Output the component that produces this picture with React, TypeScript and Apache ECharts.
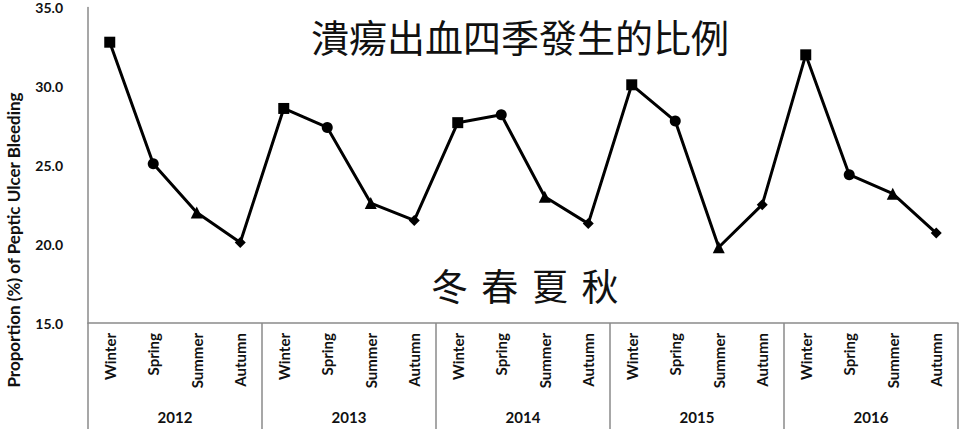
import { useEffect, useRef } from 'react';
import * as echarts from 'echarts';

const seasons = ['Winter', 'Spring', 'Summer', 'Autumn'];
const years = ['2012', '2013', '2014', '2015', '2016'];
const seasonSymbols = ['rect', 'circle', 'triangle', 'diamond'];

// proportion (%) of peptic ulcer bleeding, by season, per year
const values2012 = [32.8, 25.1, 22.0, 20.1];
const values2013 = [28.6, 27.4, 22.6, 21.5];
const values2014 = [27.7, 28.2, 23.0, 21.3];
const values2015 = [30.1, 27.8, 19.8, 22.5];
const values2016 = [32.0, 24.4, 23.2, 20.7];

const yTicks = [15, 20, 25, 30, 35];

const titleText = '潰瘍出血四季發生的比例';
const seasonsZh = ['冬', '春', '夏', '秋'];
const yAxisTitle = 'Proportion (%) of Peptic Ulcer Bleeding';

export default function App() {
    const chartRef = useRef<HTMLDivElement>(null);

    useEffect(() => {
        if (!chartRef.current) return;
        const chart = echarts.init(chartRef.current, undefined, { renderer: 'svg' });

        const allValues = [values2012, values2013, values2014, values2015, values2016];
        const categories: string[] = [];
        const data: any[] = [];
        allValues.forEach((vals) => {
            vals.forEach((v, i) => {
                categories.push(seasons[i]);
                data.push({
                    value: v,
                    symbol: seasonSymbols[i],
                    symbolSize: seasonSymbols[i] === 'triangle' ? 12 : 11,
                });
            });
        });

        const axisGrey = '#8a8a8a';
        const font = 'Lato, "Open Sans", sans-serif';

        // the four season characters, spread out like the original
        const zhLabels = seasonsZh.map((ch, i) => ({
            type: 'text',
            x: 449.5 + i * 50.2,
            y: 285,
            style: {
                text: ch,
                font: '37px "Noto Sans CJK TC"',
                fill: '#111',
                align: 'center',
                verticalAlign: 'middle',
            },
        }));

        chart.setOption({
            animation: false,
            grid: { left: 88, right: 2, top: 7.5, bottom: 106 },
            xAxis: [
                {
                    type: 'category',
                    data: categories,
                    boundaryGap: true,
                    axisLine: { show: true, lineStyle: { color: axisGrey, width: 1.5 } },
                    axisTick: { show: false },
                    axisLabel: {
                        interval: 0,
                        rotate: 90,
                        margin: 10,
                        color: '#111',
                        fontFamily: font,
                        fontWeight: 'bold',
                        fontSize: 15,
                    },
                },
                {
                    type: 'category',
                    data: years,
                    position: 'bottom',
                    boundaryGap: true,
                    axisLine: { show: false },
                    axisTick: {
                        show: true,
                        length: 106,
                        lineStyle: { color: axisGrey, width: 1.5 },
                    },
                    axisLabel: {
                        interval: 0,
                        margin: 86,
                        color: '#111',
                        fontFamily: font,
                        fontWeight: 'bold',
                        fontSize: 15,
                    },
                },
            ],
            yAxis: {
                type: 'value',
                min: yTicks[0],
                max: yTicks[yTicks.length - 1],
                interval: 5,
                axisLine: { show: true, lineStyle: { color: axisGrey, width: 1.5 } },
                axisTick: { show: false },
                splitLine: { show: false },
                axisLabel: {
                    margin: 25,
                    color: '#111',
                    fontFamily: font,
                    fontWeight: 'bold',
                    fontSize: 14,
                    formatter: (v: number) => v.toFixed(1),
                },
            },
            graphic: [
                {
                    type: 'text',
                    x: 520,
                    y: 35,
                    style: {
                        text: titleText,
                        font: '38px "Noto Sans CJK TC"',
                        fill: '#111',
                        align: 'center',
                        verticalAlign: 'middle',
                    },
                },
                ...zhLabels,
                {
                    type: 'text',
                    x: 13,
                    y: 240,
                    rotation: Math.PI / 2,
                    style: {
                        text: yAxisTitle,
                        font: 'bold 17px Lato, "Open Sans", sans-serif',
                        fill: '#111',
                        align: 'center',
                        verticalAlign: 'middle',
                    },
                },
            ],
            series: [
                {
                    type: 'line',
                    xAxisIndex: 0,
                    data,
                    lineStyle: { color: '#000', width: 3 },
                    itemStyle: { color: '#000' },
                },
            ],
        });

        return () => {
            chart.dispose();
        };
    }, []);

    return (
        <div
            ref={chartRef}
            style={{ position: 'absolute', left: 0, top: 0, width: 960, height: 429 }}
        />
    );
}
